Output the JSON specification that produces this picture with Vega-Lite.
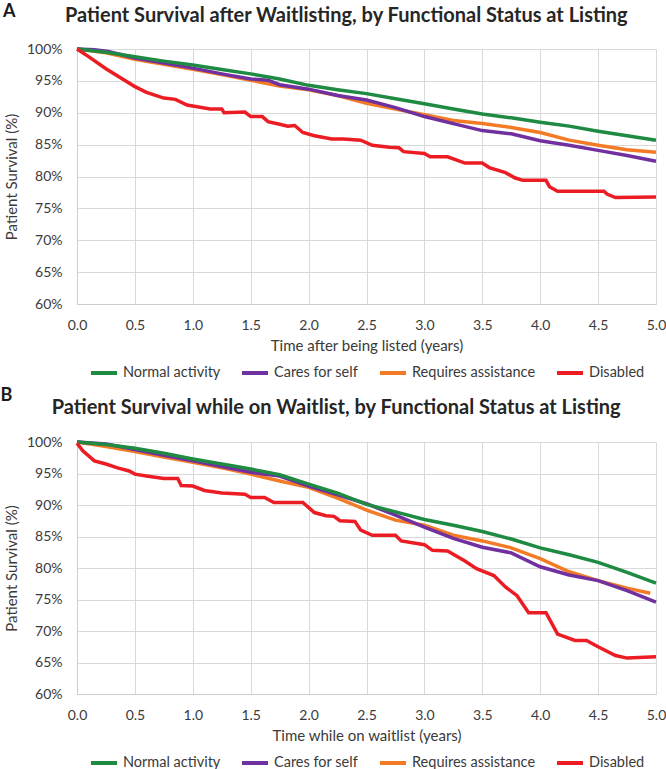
{
  "$schema": "https://vega.github.io/schema/vega-lite/v6.json",
  "padding": {"left": 0, "top": 3, "right": 0, "bottom": 0},
  "background": "white",
  "config": {
    "font": "Lato",
    "view": {"stroke": null},
    "axis": {"labelFont": "Lato", "labelFontSize": 14, "labelColor": "#3a3a3a", "titleFont": "Lato", "titleFontSize": 15, "titleFontWeight": "normal", "titleColor": "#3a3a3a", "gridColor": "#d9d9d9", "domainColor": "#cccccc", "ticks": false, "tickSize": 0, "labelOverlap": false, "labelFlush": false},
    "legend": {"layout": {"bottom": {"anchor": "middle"}}, "labelFont": "Lato", "labelFontSize": 14.5, "labelColor": "#3a3a3a"},
    "title": {"font": "Lato", "fontSize": 20, "fontWeight": "bold", "color": "#262626"},
    "concat": {"spacing": 6}
  },
  "datasets": {
    "a": [
      {"g":"Requires assistance","t":0,"s":100},{"g":"Requires assistance","t":0.25,"s":99.4},{"g":"Requires assistance","t":0.5,"s":98.4},{"g":"Requires assistance","t":0.75,"s":97.6},{"g":"Requires assistance","t":1.0,"s":96.8},{"g":"Requires assistance","t":1.25,"s":96.0},{"g":"Requires assistance","t":1.5,"s":95.1},{"g":"Requires assistance","t":1.75,"s":94.2},{"g":"Requires assistance","t":2.0,"s":93.6},{"g":"Requires assistance","t":2.25,"s":92.7},{"g":"Requires assistance","t":2.5,"s":91.5},{"g":"Requires assistance","t":2.75,"s":90.6},{"g":"Requires assistance","t":3.0,"s":89.7},{"g":"Requires assistance","t":3.25,"s":88.8},{"g":"Requires assistance","t":3.5,"s":88.3},{"g":"Requires assistance","t":3.75,"s":87.7},{"g":"Requires assistance","t":4.0,"s":86.9},{"g":"Requires assistance","t":4.25,"s":85.7},{"g":"Requires assistance","t":4.5,"s":84.9},{"g":"Requires assistance","t":4.75,"s":84.2},{"g":"Requires assistance","t":5.0,"s":83.8},
      {"g":"Cares for self","t":0,"s":100},{"g":"Cares for self","t":0.15,"s":99.9},{"g":"Cares for self","t":0.27,"s":99.6},{"g":"Cares for self","t":0.5,"s":98.6},{"g":"Cares for self","t":0.75,"s":97.8},{"g":"Cares for self","t":1.0,"s":97.0},{"g":"Cares for self","t":1.25,"s":96.1},{"g":"Cares for self","t":1.5,"s":95.3},{"g":"Cares for self","t":1.65,"s":95.1},{"g":"Cares for self","t":1.75,"s":94.4},{"g":"Cares for self","t":2.0,"s":93.7},{"g":"Cares for self","t":2.25,"s":92.7},{"g":"Cares for self","t":2.5,"s":92.0},{"g":"Cares for self","t":2.75,"s":90.8},{"g":"Cares for self","t":3.0,"s":89.4},{"g":"Cares for self","t":3.25,"s":88.3},{"g":"Cares for self","t":3.5,"s":87.2},{"g":"Cares for self","t":3.75,"s":86.7},{"g":"Cares for self","t":4.0,"s":85.6},{"g":"Cares for self","t":4.25,"s":84.9},{"g":"Cares for self","t":4.5,"s":84.1},{"g":"Cares for self","t":4.75,"s":83.3},{"g":"Cares for self","t":5.0,"s":82.4},
      {"g":"Normal activity","t":0,"s":100},{"g":"Normal activity","t":0.25,"s":99.5},{"g":"Normal activity","t":0.5,"s":98.8},{"g":"Normal activity","t":0.75,"s":98.1},{"g":"Normal activity","t":1.0,"s":97.5},{"g":"Normal activity","t":1.25,"s":96.8},{"g":"Normal activity","t":1.5,"s":96.1},{"g":"Normal activity","t":1.75,"s":95.3},{"g":"Normal activity","t":2.0,"s":94.3},{"g":"Normal activity","t":2.25,"s":93.6},{"g":"Normal activity","t":2.5,"s":93.0},{"g":"Normal activity","t":2.75,"s":92.2},{"g":"Normal activity","t":3.0,"s":91.4},{"g":"Normal activity","t":3.25,"s":90.6},{"g":"Normal activity","t":3.5,"s":89.8},{"g":"Normal activity","t":3.75,"s":89.2},{"g":"Normal activity","t":4.0,"s":88.5},{"g":"Normal activity","t":4.25,"s":87.9},{"g":"Normal activity","t":4.5,"s":87.1},{"g":"Normal activity","t":4.75,"s":86.4},{"g":"Normal activity","t":5.0,"s":85.7},
      {"g":"Disabled","t":0,"s":100},{"g":"Disabled","t":0.1,"s":98.8},{"g":"Disabled","t":0.25,"s":96.9},{"g":"Disabled","t":0.4,"s":95.2},{"g":"Disabled","t":0.5,"s":94.1},{"g":"Disabled","t":0.6,"s":93.2},{"g":"Disabled","t":0.75,"s":92.3},{"g":"Disabled","t":0.85,"s":92.1},{"g":"Disabled","t":0.95,"s":91.2},{"g":"Disabled","t":1.05,"s":90.9},{"g":"Disabled","t":1.15,"s":90.6},{"g":"Disabled","t":1.25,"s":90.6},{"g":"Disabled","t":1.27,"s":90.0},{"g":"Disabled","t":1.45,"s":90.1},{"g":"Disabled","t":1.5,"s":89.4},{"g":"Disabled","t":1.6,"s":89.4},{"g":"Disabled","t":1.65,"s":88.6},{"g":"Disabled","t":1.75,"s":88.2},{"g":"Disabled","t":1.82,"s":87.9},{"g":"Disabled","t":1.88,"s":88.0},{"g":"Disabled","t":1.95,"s":86.9},{"g":"Disabled","t":2.05,"s":86.4},{"g":"Disabled","t":2.2,"s":85.9},{"g":"Disabled","t":2.3,"s":85.9},{"g":"Disabled","t":2.45,"s":85.7},{"g":"Disabled","t":2.55,"s":84.9},{"g":"Disabled","t":2.7,"s":84.6},{"g":"Disabled","t":2.78,"s":84.5},{"g":"Disabled","t":2.82,"s":83.9},{"g":"Disabled","t":3.0,"s":83.6},{"g":"Disabled","t":3.05,"s":83.1},{"g":"Disabled","t":3.2,"s":83.1},{"g":"Disabled","t":3.35,"s":82.1},{"g":"Disabled","t":3.5,"s":82.1},{"g":"Disabled","t":3.56,"s":81.4},{"g":"Disabled","t":3.7,"s":80.6},{"g":"Disabled","t":3.78,"s":79.8},{"g":"Disabled","t":3.85,"s":79.4},{"g":"Disabled","t":4.05,"s":79.4},{"g":"Disabled","t":4.08,"s":78.4},{"g":"Disabled","t":4.15,"s":77.7},{"g":"Disabled","t":4.55,"s":77.7},{"g":"Disabled","t":4.58,"s":77.2},{"g":"Disabled","t":4.65,"s":76.7},{"g":"Disabled","t":5.0,"s":76.8}
    ],
    "b": [
      {"g":"Requires assistance","t":0,"s":100},{"g":"Requires assistance","t":0.25,"s":99.3},{"g":"Requires assistance","t":0.5,"s":98.5},{"g":"Requires assistance","t":0.75,"s":97.6},{"g":"Requires assistance","t":1.0,"s":96.8},{"g":"Requires assistance","t":1.25,"s":95.9},{"g":"Requires assistance","t":1.5,"s":94.9},{"g":"Requires assistance","t":1.75,"s":93.8},{"g":"Requires assistance","t":2.0,"s":92.8},{"g":"Requires assistance","t":2.25,"s":91.1},{"g":"Requires assistance","t":2.5,"s":89.2},{"g":"Requires assistance","t":2.75,"s":87.6},{"g":"Requires assistance","t":3.0,"s":86.8},{"g":"Requires assistance","t":3.25,"s":85.2},{"g":"Requires assistance","t":3.5,"s":84.3},{"g":"Requires assistance","t":3.75,"s":83.2},{"g":"Requires assistance","t":4.0,"s":81.5},{"g":"Requires assistance","t":4.25,"s":79.4},{"g":"Requires assistance","t":4.5,"s":78.0},{"g":"Requires assistance","t":4.75,"s":76.8},{"g":"Requires assistance","t":4.95,"s":76.0},
      {"g":"Cares for self","t":0,"s":100},{"g":"Cares for self","t":0.25,"s":99.7},{"g":"Cares for self","t":0.5,"s":98.8},{"g":"Cares for self","t":0.75,"s":97.9},{"g":"Cares for self","t":1.0,"s":97.0},{"g":"Cares for self","t":1.25,"s":96.1},{"g":"Cares for self","t":1.5,"s":95.2},{"g":"Cares for self","t":1.75,"s":94.6},{"g":"Cares for self","t":2.0,"s":93.0},{"g":"Cares for self","t":2.25,"s":91.6},{"g":"Cares for self","t":2.5,"s":90.2},{"g":"Cares for self","t":2.75,"s":88.4},{"g":"Cares for self","t":3.0,"s":86.5},{"g":"Cares for self","t":3.25,"s":84.7},{"g":"Cares for self","t":3.5,"s":83.3},{"g":"Cares for self","t":3.75,"s":82.4},{"g":"Cares for self","t":4.0,"s":80.2},{"g":"Cares for self","t":4.25,"s":78.9},{"g":"Cares for self","t":4.5,"s":78.0},{"g":"Cares for self","t":4.75,"s":76.4},{"g":"Cares for self","t":5.0,"s":74.6},
      {"g":"Normal activity","t":0,"s":100},{"g":"Normal activity","t":0.25,"s":99.6},{"g":"Normal activity","t":0.5,"s":99.0},{"g":"Normal activity","t":0.75,"s":98.2},{"g":"Normal activity","t":1.0,"s":97.3},{"g":"Normal activity","t":1.25,"s":96.5},{"g":"Normal activity","t":1.5,"s":95.7},{"g":"Normal activity","t":1.75,"s":94.8},{"g":"Normal activity","t":2.0,"s":93.3},{"g":"Normal activity","t":2.25,"s":91.9},{"g":"Normal activity","t":2.5,"s":90.1},{"g":"Normal activity","t":2.75,"s":88.9},{"g":"Normal activity","t":3.0,"s":87.7},{"g":"Normal activity","t":3.25,"s":86.8},{"g":"Normal activity","t":3.5,"s":85.8},{"g":"Normal activity","t":3.75,"s":84.6},{"g":"Normal activity","t":4.0,"s":83.2},{"g":"Normal activity","t":4.25,"s":82.1},{"g":"Normal activity","t":4.5,"s":80.9},{"g":"Normal activity","t":4.75,"s":79.3},{"g":"Normal activity","t":5.0,"s":77.6},
      {"g":"Disabled","t":0,"s":99.8},{"g":"Disabled","t":0.05,"s":98.6},{"g":"Disabled","t":0.15,"s":97.0},{"g":"Disabled","t":0.25,"s":96.5},{"g":"Disabled","t":0.35,"s":95.9},{"g":"Disabled","t":0.45,"s":95.4},{"g":"Disabled","t":0.5,"s":94.9},{"g":"Disabled","t":0.6,"s":94.6},{"g":"Disabled","t":0.75,"s":94.2},{"g":"Disabled","t":0.87,"s":94.2},{"g":"Disabled","t":0.9,"s":93.1},{"g":"Disabled","t":1.0,"s":93.0},{"g":"Disabled","t":1.1,"s":92.3},{"g":"Disabled","t":1.25,"s":91.9},{"g":"Disabled","t":1.45,"s":91.7},{"g":"Disabled","t":1.5,"s":91.2},{"g":"Disabled","t":1.62,"s":91.2},{"g":"Disabled","t":1.7,"s":90.4},{"g":"Disabled","t":1.95,"s":90.4},{"g":"Disabled","t":2.05,"s":88.8},{"g":"Disabled","t":2.15,"s":88.3},{"g":"Disabled","t":2.22,"s":88.2},{"g":"Disabled","t":2.27,"s":87.5},{"g":"Disabled","t":2.4,"s":87.4},{"g":"Disabled","t":2.45,"s":86.0},{"g":"Disabled","t":2.55,"s":85.2},{"g":"Disabled","t":2.75,"s":85.2},{"g":"Disabled","t":2.8,"s":84.3},{"g":"Disabled","t":3.0,"s":83.7},{"g":"Disabled","t":3.07,"s":82.8},{"g":"Disabled","t":3.2,"s":82.7},{"g":"Disabled","t":3.35,"s":81.1},{"g":"Disabled","t":3.45,"s":79.9},{"g":"Disabled","t":3.6,"s":78.8},{"g":"Disabled","t":3.7,"s":77.0},{"g":"Disabled","t":3.8,"s":75.6},{"g":"Disabled","t":3.9,"s":72.9},{"g":"Disabled","t":4.05,"s":72.9},{"g":"Disabled","t":4.15,"s":69.5},{"g":"Disabled","t":4.3,"s":68.5},{"g":"Disabled","t":4.4,"s":68.5},{"g":"Disabled","t":4.5,"s":67.5},{"g":"Disabled","t":4.65,"s":66.1},{"g":"Disabled","t":4.75,"s":65.7},{"g":"Disabled","t":5.0,"s":65.9}
    ]
  },
  "vconcat": [
    {
      "width": 579,
      "height": 255,
      "title": {"text": "Patient Survival after Waitlisting, by Functional Status at Listing", "offset": -23, "anchor": "middle", "frame": "bounds", "dx": 12},
      "layer": [
        {
          "data": {"name": "a"},
          "mark": {"type": "line", "strokeWidth": 3.5},
          "encoding": {
            "x": {"field": "t", "type": "quantitative", "scale": {"domain": [0, 5], "nice": false},
                  "axis": {"values": [0, 0.5, 1, 1.5, 2, 2.5, 3, 3.5, 4, 4.5, 5], "format": ".1f", "title": "Time after being listed (years)", "labelPadding": 14, "titlePadding": 6}},
            "y": {"field": "s", "type": "quantitative", "scale": {"domain": [60, 100], "nice": false},
                  "axis": {"values": [60, 65, 70, 75, 80, 85, 90, 95, 100], "labelExpr": "datum.value + '%'", "title": "Patient Survival (%)", "labelPadding": 15, "titlePadding": 7}},
            "color": {"field": "g", "type": "nominal",
                      "scale": {"domain": ["Normal activity", "Cares for self", "Requires assistance", "Disabled"], "range": ["#1e8a42", "#7030a0", "#f47b26", "#ec1c24"]},
                      "legend": {"title": null, "orient": "bottom", "direction": "horizontal", "symbolType": "stroke", "symbolStrokeWidth": 4, "symbolSize": 676, "columnPadding": 13, "labelOffset": 4, "offset": 5}}
          }
        },
        {
          "data": {"values": [{"label": "A"}]},
          "mark": {"type": "text", "fontSize": 18, "fontWeight": "bold", "align": "left", "baseline": "alphabetic", "font": "Lato", "color": "#1a1a1a"},
          "encoding": {
            "x": {"datum": -0.64, "type": "quantitative",
                  "axis": {"values": [0, 0.5, 1, 1.5, 2, 2.5, 3, 3.5, 4, 4.5, 5], "format": ".1f", "title": "Time after being listed (years)", "labelPadding": 14, "titlePadding": 6}},
            "y": {"datum": 104.95, "type": "quantitative",
                  "axis": {"values": [60, 65, 70, 75, 80, 85, 90, 95, 100], "labelExpr": "datum.value + '%'", "title": "Patient Survival (%)", "labelPadding": 15, "titlePadding": 7}},
            "text": {"field": "label"}
          }
        }
      ]
    },
    {
      "width": 579,
      "height": 252,
      "title": {"text": "Patient Survival while on Waitlist, by Functional Status at Listing", "offset": -31, "anchor": "middle", "frame": "bounds", "dx": 3},
      "layer": [
        {
          "data": {"name": "b"},
          "mark": {"type": "line", "strokeWidth": 3.5},
          "encoding": {
            "x": {"field": "t", "type": "quantitative", "scale": {"domain": [0, 5], "nice": false},
                  "axis": {"values": [0, 0.5, 1, 1.5, 2, 2.5, 3, 3.5, 4, 4.5, 5], "format": ".1f", "title": "Time while on waitlist (years)", "labelPadding": 14, "titlePadding": 6}},
            "y": {"field": "s", "type": "quantitative", "scale": {"domain": [60, 100], "nice": false},
                  "axis": {"values": [60, 65, 70, 75, 80, 85, 90, 95, 100], "labelExpr": "datum.value + '%'", "title": "Patient Survival (%)", "labelPadding": 15, "titlePadding": 7}},
            "color": {"field": "g", "type": "nominal",
                      "scale": {"domain": ["Normal activity", "Cares for self", "Requires assistance", "Disabled"], "range": ["#1e8a42", "#7030a0", "#f47b26", "#ec1c24"]},
                      "legend": {"title": null, "orient": "bottom", "direction": "horizontal", "symbolType": "stroke", "symbolStrokeWidth": 4, "symbolSize": 676, "columnPadding": 13, "labelOffset": 4, "offset": 5}}
          }
        },
        {
          "data": {"values": [{"label": "B"}]},
          "mark": {"type": "text", "fontSize": 18, "fontWeight": "bold", "align": "left", "baseline": "alphabetic", "font": "Lato", "color": "#1a1a1a"},
          "encoding": {
            "x": {"datum": -0.66, "type": "quantitative",
                  "axis": {"values": [0, 0.5, 1, 1.5, 2, 2.5, 3, 3.5, 4, 4.5, 5], "format": ".1f", "title": "Time while on waitlist (years)", "labelPadding": 14, "titlePadding": 6}},
            "y": {"datum": 106.5, "type": "quantitative",
                  "axis": {"values": [60, 65, 70, 75, 80, 85, 90, 95, 100], "labelExpr": "datum.value + '%'", "title": "Patient Survival (%)", "labelPadding": 15, "titlePadding": 7}},
            "text": {"field": "label"}
          }
        }
      ]
    }
  ],
  "resolve": {"scale": {"color": "independent"}, "legend": {"color": "independent"}}
}
